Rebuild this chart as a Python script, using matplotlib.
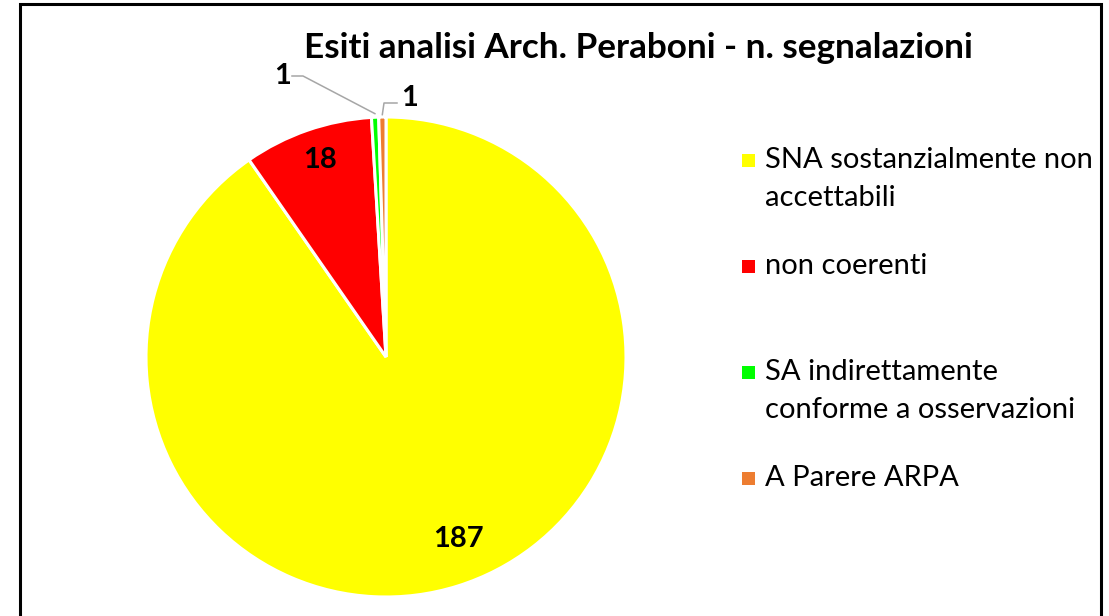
import matplotlib
matplotlib.use("Agg")
import matplotlib.pyplot as plt
from matplotlib.patches import Rectangle
import numpy as np

# ---- data ----
title = "Esiti analisi Arch. Peraboni - n. segnalazioni"
categories = ["SNA sostanzialmente non\naccettabili", "non coerenti",
              "SA indirettamente\nconforme a osservazioni", "A Parere ARPA"]
values = [187, 18, 1, 1]
colors = ["#FFFF00", "#FF0000", "#00FF00", "#ED7D31"]

FONT = ["Lato", "DejaVu Sans"]
plt.rcParams['font.family'] = FONT

W, H = 1109, 616
fig = plt.figure(figsize=(W / 100, H / 100), dpi=100)

# pie axes: center (386, 357) px, radius 240 px
cx, cy, R, half = 386, 357, 240, 262
ax = fig.add_axes([(cx - half) / W, (H - cy - half) / H, 2 * half / W, 2 * half / H])
wedges, _ = ax.pie(values, colors=colors, startangle=90, counterclock=False,
                   radius=1.0, wedgeprops=dict(edgecolor="white", linewidth=2.2))
lim = half / R
ax.set_xlim(-lim, lim)
ax.set_ylim(-lim, lim)
ax.set_aspect('equal')
ax.axis('off')

LBL = 21
# inside data labels (label placement tweaks: angle shift in degrees, radius)
inside_place = {0: (4.3, 0.816), 1: (-0.6, 0.865)}
for i, (w, v) in enumerate(zip(wedges, values)):
    if i in inside_place:
        dth, rr = inside_place[i]
        mid = np.deg2rad((w.theta1 + w.theta2) / 2 + dth)
        ax.text(rr * np.cos(mid), rr * np.sin(mid), str(v), ha='center', va='center',
                fontsize=LBL, fontweight='bold', color='black')

# outside labels for tiny slices (green, orange)
g = wedges[2]
mid = np.deg2rad((g.theta1 + g.theta2) / 2)
p0 = (1.015 * np.cos(mid), 1.015 * np.sin(mid))
ax.plot([p0[0], (303 - cx) / R, (292 - cx) / R], [p0[1], (cy - 76) / R, (cy - 76) / R],
        color="#A6A6A6", lw=1.1, clip_on=False)
ax.text((283 - cx) / R, (cy - 76) / R, str(values[2]), ha='center', va='center',
        fontsize=LBL, fontweight='bold')

o = wedges[3]
mid = np.deg2rad((o.theta1 + o.theta2) / 2)
p1 = (1.01 * np.cos(mid), 1.01 * np.sin(mid))
ax.plot([p1[0], (384 - cx) / R, (397 - cx) / R], [p1[1], (cy - 103) / R, (cy - 103) / R],
        color="#A6A6A6", lw=1.1, clip_on=False)
ax.text((410 - cx) / R, (cy - 98) / R, str(values[3]), ha='center', va='center',
        fontsize=LBL, fontweight='bold')

# title
fig.text(638 / W, 1 - 48 / H, title, ha='center', va='center', fontsize=25.3,
         fontweight='bold')

# legend (manual)
first_line_y = [160, 266, 372, 478]
line_gap = 38
for lab, col, y0 in zip(categories, colors, first_line_y):
    fig.patches.append(Rectangle(((742) / W, 1 - (y0 + 6.5) / H), 13 / W, 13 / H,
                                 transform=fig.transFigure, facecolor=col,
                                 edgecolor='none', figure=fig))
    for j, line in enumerate(lab.split("\n")):
        fig.text(765 / W, 1 - (y0 + j * line_gap) / H, line, ha='left',
                 va='center', fontsize=21, color='black')

# chart border
fig.patches.append(Rectangle((20 / W, -0.05), 1081 / W, 1.05 - 4 / H,
                             transform=fig.transFigure, facecolor='none',
                             edgecolor='black', linewidth=2.2, figure=fig))

fig.savefig("out.png", dpi=100)
